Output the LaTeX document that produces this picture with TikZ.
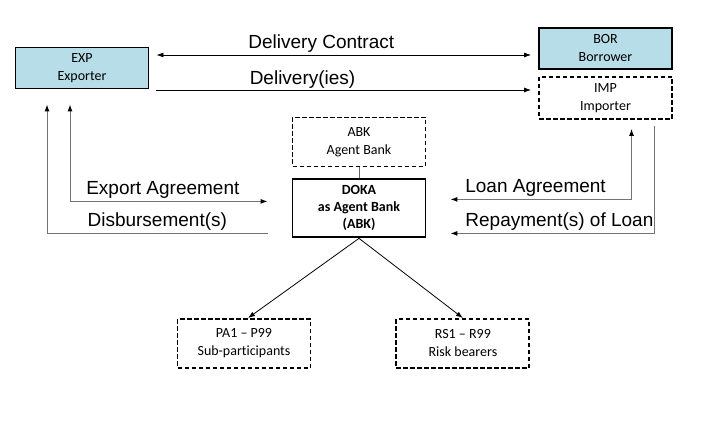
\documentclass[tikz,border=0pt]{standalone}
\usepackage{fontspec}
\setmainfont{Liberation Sans}
\newfontfamily\boxfont[Ligatures=NoCommon]{Carlito}
\usetikzlibrary{arrows.meta, positioning, calc}

\definecolor{partyblue}{RGB}{183,221,232}

\begin{document}
\begin{tikzpicture}[
  x=1pt, y=1pt,
  party/.style={
    rectangle,
    draw,
    line width=1.9pt,
    minimum width=133pt,
    minimum height=41pt,
    align=center,
    inner sep=1pt,
    font=\boxfont\fontsize{14}{18}\selectfont,
    fill=partyblue
  },
  dashbox/.style={
    party,
    fill=white,
    dash pattern=on 4.5pt off 2.5pt
  },
  bank/.style={
    party,
    fill=white,
    minimum height=58pt,
    font=\boxfont\bfseries\fontsize{14}{17}\selectfont
  },
  lbl/.style={
    font=\fontsize{19}{21}\selectfont,
    inner sep=1pt
  },
  arrow/.style={-{Latex[length=7pt,width=5pt]}, line width=0.8pt},
  twoway/.style={{Latex[length=7pt,width=5pt]}-{Latex[length=7pt,width=5pt]}, line width=0.8pt},
  flow/.style={-{Latex[length=7pt,width=5pt,color=black]}, line width=1pt, draw=black!55},
  twoflow/.style={{Latex[length=7pt,width=5pt,color=black]}-{Latex[length=7pt,width=5pt,color=black]}, line width=1pt, draw=black!55}
]

\useasboundingbox (0,0) rectangle (703,-446);

% ============================================================
% Top: exporter and borrower / importer
% ============================================================

\node[party] (exp) at (82,-68) {EXP\\Exporter};
\node[party] (bor) at (605.5,-48.5) {BOR\\Borrower};
\node[dashbox, below=6pt of bor, minimum height=42pt] (imp) {IMP\\Importer};

\coordinate (dc) at ([shift={(7pt,13pt)}]exp.east);
\coordinate (dl) at ([shift={(7pt,-22pt)}]exp.east);

\draw[twoway] (dc) -- ([xshift=-7pt]bor.west |- dc)
  node[lbl, pos=0.44, above=1pt] {Delivery Contract};
\draw[arrow] (dl) -- ([xshift=-7pt]imp.west |- dl)
  node[lbl, pos=0.39, above=0pt] {Delivery(ies)};

% ============================================================
% Middle: agent bank
% ============================================================

\node[dashbox, minimum height=49pt] (abk) at (359,-142) {ABK\\Agent Bank};
\node[bank, below=11pt of abk] (doka) {DOKA\\as Agent Bank\\(ABK)};

\draw[line width=0.8pt, draw=black!60] (abk) -- (doka);

% agreements and payment flows
\draw[twoflow] ([shift={(-12pt,-15pt)}]exp.south) |- ([shift={(-24pt,7pt)}]doka.west)
  node[lbl, pos=0.735, above=1pt] {Export Agreement};
\draw[flow] ([shift={(-24pt,-25pt)}]doka.west) -| ([shift={(-35pt,-15pt)}]exp.south)
  node[lbl, pos=0.25, above=1pt] {Disbursement(s)};

\draw[twoflow] ([shift={(24pt,9pt)}]doka.east) -| ([shift={(26pt,-9pt)}]imp.south)
  node[lbl, pos=0.235, above=1pt] {Loan Agreement};
\draw[flow] ([shift={(49pt,-6pt)}]imp.south) |- ([shift={(24pt,-25pt)}]doka.east)
  node[lbl, pos=0.733, above=1pt] {Repayment(s) of Loan};

% ============================================================
% Bottom: participants
% ============================================================

\node[dashbox, minimum height=49pt] (pa) at (244,-343.5) {PA1 – P99\\Sub-participants};
\node[dashbox, minimum height=49pt, right=84pt of pa] (rs) {RS1 – R99\\Risk bearers};

\draw[arrow] (doka.south) -- ([xshift=4pt]pa.north);
\draw[arrow] (doka.south) -- (rs.north);

\end{tikzpicture}
\end{document}
